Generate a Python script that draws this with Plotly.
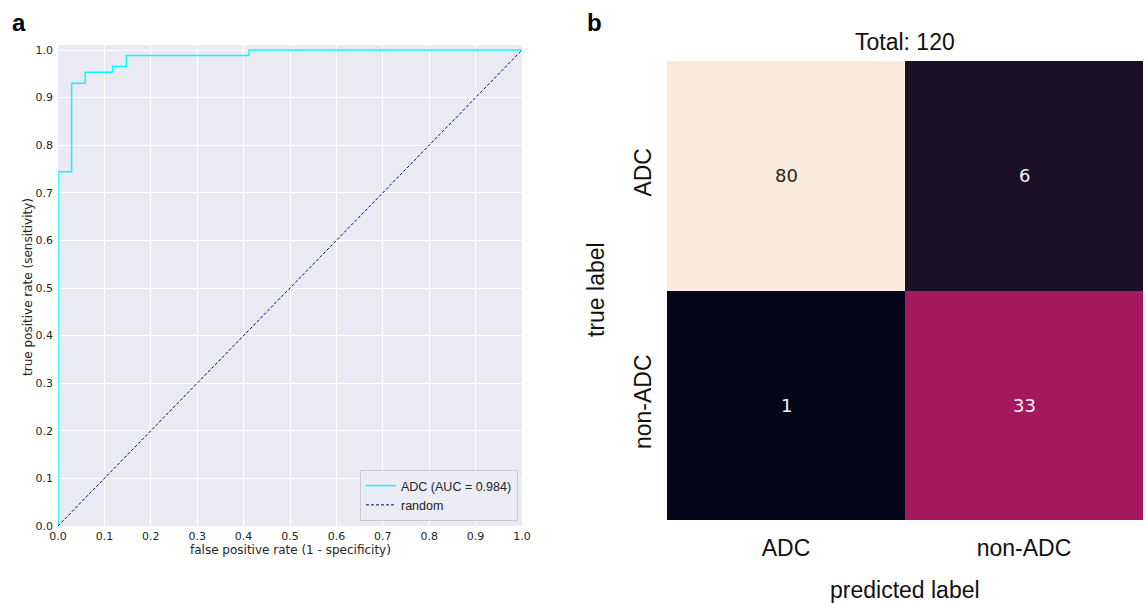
import plotly.graph_objects as go

# ---------------- data ----------------
# ROC curve (step points), 34 negatives / 86 positives
fpr = [0.0, 0.0, 0.0294, 0.0294, 0.0588, 0.0588, 0.1176, 0.1176, 0.1471, 0.1471, 0.4118, 0.4118, 1.0]
tpr = [0.0, 0.7442, 0.7442, 0.9302, 0.9302, 0.9535, 0.9535, 0.9651, 0.9651, 0.9884, 0.9884, 1.0, 1.0]
random_x = [0.0, 1.0]
random_y = [0.0, 1.0]
roc_label = "ADC (AUC = 0.984)"

# confusion matrix
cm_labels = ["ADC", "non-ADC"]
cm_values = [[80, 6],
             [1, 33]]
cm_total = 120

# approximate seaborn "rocket" colormap
rocket = [
    [0.0, "#03051A"], [0.063, "#1A1129"], [0.125, "#2E1A3F"], [0.25, "#611F53"],
    [0.405, "#A3195B"], [0.5, "#CB1B4F"], [0.625, "#EF4E3B"], [0.75, "#F4875E"],
    [0.875, "#F6BC9A"], [1.0, "#FAEBDD"],
]

W, H = 1146, 603
def px(x): return x / W
def py(y): return 1 - y / H

fig = go.Figure()

fig.add_trace(go.Scatter(x=fpr, y=tpr, mode="lines", name=roc_label,
                         line=dict(color="#00FFFF", width=1.5),
                         xaxis="x", yaxis="y"))
fig.add_trace(go.Scatter(x=random_x, y=random_y, mode="lines", name="random",
                         line=dict(color="#000080", width=1, dash="3px,2px"),
                         xaxis="x", yaxis="y"))

zmin = min(min(r) for r in cm_values)
zmax = max(max(r) for r in cm_values)
fig.add_trace(go.Heatmap(x=cm_labels, y=cm_labels, z=cm_values,
                         colorscale=rocket, zmin=zmin, zmax=zmax,
                         showscale=False, xaxis="x2", yaxis="y2",
                         hoverinfo="skip"))

tick_font = dict(family="DejaVu Sans", size=11, color="#262626")
fig.update_layout(
    width=W, height=H,
    margin=dict(l=0, r=0, t=0, b=0, autoexpand=False),
    paper_bgcolor="white",
    plot_bgcolor="#EAEAF2",
    showlegend=True,
    legend=dict(x=px(518), y=py(521), xanchor="right", yanchor="bottom",
                bgcolor="rgba(236,236,244,0.9)", bordercolor="#CCCCCC", borderwidth=1,
                font=dict(family="Liberation Sans", size=12.5, color="#262626"),
                itemwidth=30, tracegroupgap=0,
                entrywidth=200, entrywidthmode="pixels"),
    xaxis=dict(domain=[px(58), px(522)], range=[0, 1], dtick=0.1, tick0=0,
               tickformat=".1f", showgrid=True, gridcolor="white", gridwidth=1,
               zeroline=False, showline=False, ticks="", tickfont=tick_font,
               ticklabelstandoff=2, anchor="y", fixedrange=True, automargin=False),
    yaxis=dict(domain=[py(526), py(45)], range=[0, 1.0105], dtick=0.1, tick0=0,
               tickformat=".1f", showgrid=True, gridcolor="white", gridwidth=1,
               zeroline=False, showline=False, ticks="", tickfont=tick_font,
               ticklabelstandoff=4, anchor="x", fixedrange=True, automargin=False),
    xaxis2=dict(domain=[px(667), px(1143)], anchor="y2", showgrid=False,
                zeroline=False, showline=False, ticks="", automargin=False,
                tickfont=dict(family="Liberation Sans", size=23, color="#111111"),
                ticklabelstandoff=12),
    yaxis2=dict(domain=[py(520), py(61)], anchor="x2", autorange="reversed",
                showgrid=False, zeroline=False, showline=False, ticks="",
                tickangle=-90, automargin=False,
                tickfont=dict(family="Liberation Sans", size=23, color="#111111"),
                ticklabelstandoff=10),
)

def pann(text, x, y, size, family="Liberation Sans", color="#111111", angle=0):
    return dict(text=text, x=px(x), y=py(y), xref="paper", yref="paper",
                xanchor="center", yanchor="middle", showarrow=False, textangle=angle,
                font=dict(family=family, size=size, color=color))

ann = []
# axis titles panel a
ann.append(pann("false positive rate (1 - specificity)", 290, 550, 12, "DejaVu Sans", "#262626"))
ann.append(pann("true positive rate (sensitivity)", 28, 287, 12, "DejaVu Sans", "#262626", -90))
# panel letters
ann.append(pann("<b>a</b>", 19, 22, 24, color="black"))
ann.append(pann("<b>b</b>", 594, 22, 24, color="black"))
# panel b titles
ann.append(pann(f"Total: {cm_total}", 905, 42, 23))
ann.append(pann("predicted label", 905, 590, 23))
ann.append(pann("true label", 596, 290, 23, angle=-90))
# cell annotations
thr = (zmin + zmax) / 2
for i, rl in enumerate(cm_labels):
    for j, cl in enumerate(cm_labels):
        v = cm_values[i][j]
        ann.append(dict(text=str(v), x=cl, y=rl, xref="x2", yref="y2", showarrow=False,
                        font=dict(family="DejaVu Sans", size=18,
                                  color="#262626" if v > thr else "#F5F5F5")))
fig.update_layout(annotations=ann)

fig.write_html("out.html",
               config={"displayModeBar": False},
               post_script="document.body.style.margin='0';"
                           "document.documentElement.style.overflow='hidden';")
